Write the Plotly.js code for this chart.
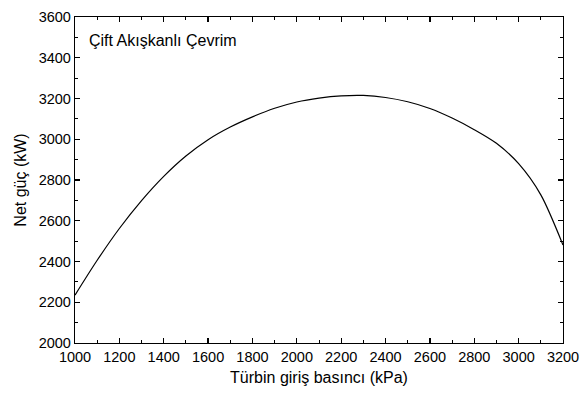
<!DOCTYPE html>
<html>
<head>
<meta charset="utf-8">
<script src="https://cdn.plot.ly/plotly-3.0.1.min.js"></script>
<style>
  html, body { margin: 0; padding: 0; background: #ffffff; }
  #chart { width: 581px; height: 394px; }
</style>
</head>
<body>
<div id="chart"></div>
<script>
// Turbine inlet pressure (kPa) and net power output (kW)
const basinc = [1000, 1100, 1200, 1300, 1400, 1500, 1600, 1700, 1800, 1900, 2000, 2100,
                2200, 2300, 2400, 2500, 2600, 2700, 2800, 2900, 3000, 3100, 3200];
const netGuc = [2235, 2406, 2562, 2699, 2818, 2918, 2998, 3060, 3110, 3152, 3183, 3202,
                3213, 3215, 3205, 3184, 3151, 3104, 3047, 2980, 2880, 2727, 2481];

const xTicks = [1000, 1200, 1400, 1600, 1800, 2000, 2200, 2400, 2600, 2800, 3000, 3200];
const yTicks = [2000, 2200, 2400, 2600, 2800, 3000, 3200, 3400, 3600];

const fontFamily = 'Liberation Sans, Arial, Helvetica, sans-serif';

const trace = {
  x: basinc,
  y: netGuc,
  type: 'scatter',
  mode: 'lines',
  line: { color: '#000000', width: 1.2, shape: 'spline', smoothing: 0.8 },
  hoverinfo: 'skip'
};

const axisCommon = {
  showline: true,
  linecolor: '#000000',
  linewidth: 1.2,
  mirror: 'ticks',
  ticks: 'inside',
  ticklen: 5,
  tickwidth: 1.2,
  tickcolor: '#000000',
  showgrid: false,
  zeroline: false,
  tickfont: { family: fontFamily, size: 14.5, color: '#000000' },
  automargin: false
};

const layout = {
  width: 581,
  height: 394,
  margin: { l: 75, r: 18, t: 17, b: 51 },
  paper_bgcolor: '#ffffff',
  plot_bgcolor: '#ffffff',
  showlegend: false,
  font: { family: fontFamily, color: '#000000' },
  xaxis: Object.assign({}, axisCommon, {
    range: [1000, 3200],
    tickmode: 'array',
    tickvals: xTicks,
    ticktext: xTicks.map(String),
    minor: { ticks: 'inside', ticklen: 3, tickwidth: 1, tickcolor: '#000000', dtick: 100, tick0: 1000 },
    title: { text: 'Türbin giriş basıncı (kPa)', font: { family: fontFamily, size: 16, color: '#000000' }, standoff: 8 }
  }),
  yaxis: Object.assign({}, axisCommon, {
    range: [2000, 3600],
    tickmode: 'array',
    tickvals: yTicks,
    ticktext: yTicks.map(String),
    minor: { ticks: 'inside', ticklen: 3, tickwidth: 1, tickcolor: '#000000', dtick: 100, tick0: 2000 },
    title: { text: 'Net güç (kW)', font: { family: fontFamily, size: 16, color: '#000000' }, standoff: 8 }
  }),
  annotations: [{
    xref: 'paper', yref: 'paper',
    x: 0.024, y: 0.929,
    xanchor: 'left', yanchor: 'middle',
    text: 'Çift Akışkanlı Çevrim',
    showarrow: false,
    font: { family: fontFamily, size: 16, color: '#000000' }
  }]
};

Plotly.newPlot('chart', [trace], layout, { staticPlot: true, displayModeBar: false });
</script>
</body>
</html>
